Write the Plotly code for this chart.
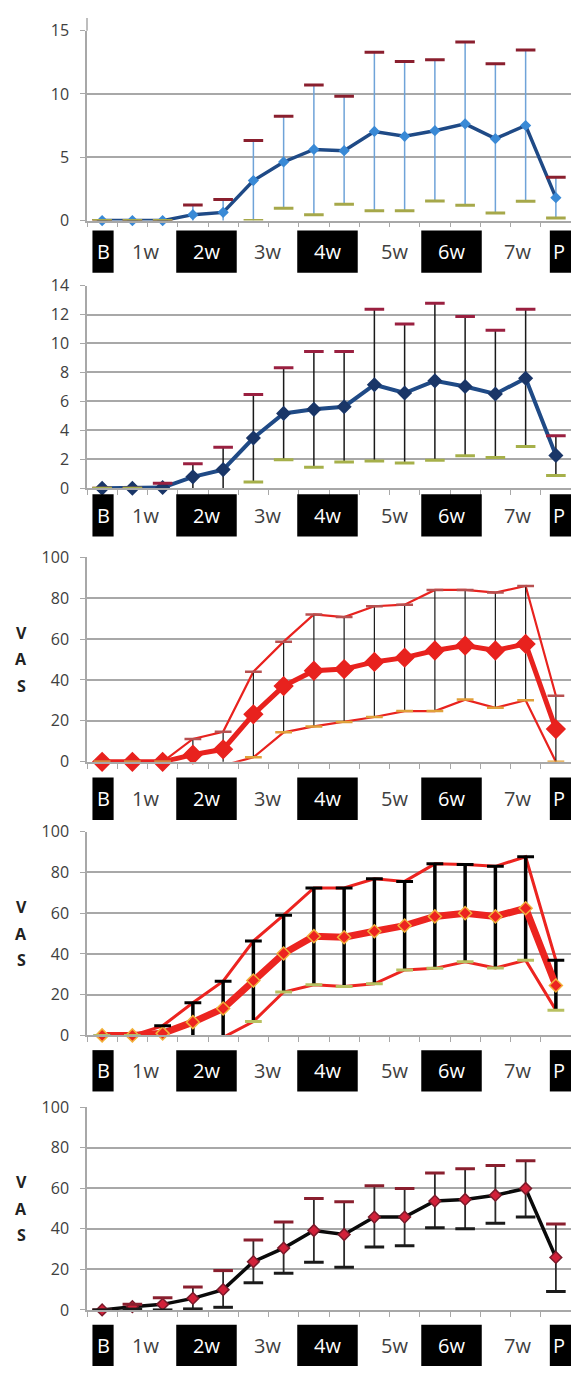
import plotly.graph_objects as go

W, H = 571, 1378

# ---------------- data ----------------
x_idx = list(range(16))  # 16 time points: B, 1w(2), 2w(2), 3w(2), 4w(2), 5w(2), 6w(2), 7w(2), P

group_labels = ["B", "1w", "2w", "3w", "4w", "5w", "6w", "7w", "P"]
group_boxed = [True, False, True, False, True, False, True, False, True]

p1_mean = [0, 0, 0, 0.47, 0.65, 3.16, 4.63, 5.62, 5.52, 7.04, 6.66, 7.10, 7.64, 6.47, 7.51, 1.81]
p1_upper = [0, 0, 0, 1.24, 1.66, 6.32, 8.24, 10.7, 9.82, 13.3, 12.56, 12.7, 14.1, 12.38, 13.47, 3.42]
p1_lower = [0, 0, 0, -0.3, -0.4, 0, 0.98, 0.47, 1.3, 0.78, 0.78, 1.55, 1.22, 0.6, 1.53, 0.2]

p2_mean = [0, 0, 0.05, 0.79, 1.29, 3.47, 5.17, 5.45, 5.63, 7.15, 6.58, 7.42, 7.03, 6.51, 7.6, 2.27]
p2_upper = [0, 0, 0.34, 1.7, 2.84, 6.47, 8.33, 9.44, 9.44, 12.37, 11.35, 12.78, 11.87, 10.91, 12.37, 3.63]
p2_lower = [0, 0, -0.2, -0.1, -0.3, 0.43, 1.97, 1.45, 1.82, 1.88, 1.75, 1.93, 2.25, 2.13, 2.88, 0.88]

p3_mean = [0, 0, 0, 3.5, 6.1, 23.2, 37.0, 44.5, 45.3, 48.8, 50.9, 54.4, 56.8, 54.4, 57.6, 16.0]
p3_upper = [0, 0, 0, 11.2, 14.7, 44.0, 58.7, 72.0, 70.7, 76.0, 76.8, 84.0, 84.0, 82.7, 85.9, 32.3]
p3_lower = [0, 0, 0, -4.0, -1.8, 2.2, 14.4, 17.3, 19.5, 21.9, 24.8, 24.8, 30.4, 26.4, 30.1, 0]

p4_mean = [0, 0, 1.0, 6.5, 13.2, 26.9, 40.2, 48.7, 48.2, 51.1, 53.9, 58.4, 60.0, 58.4, 62.4, 24.5]
p4_upper = [0, 0, 4.7, 16.0, 26.6, 46.3, 59.0, 72.4, 72.4, 76.9, 75.6, 84.2, 83.9, 83.0, 87.7, 36.9]
p4_lower = [0, 0, -1.5, -4.0, -1.0, 6.8, 21.3, 24.8, 24.0, 25.3, 32.1, 32.9, 36.1, 33.1, 36.9, 12.4]

p5_mean = [0, 1.6, 2.75, 5.7, 10.0, 23.8, 30.5, 39.2, 37.2, 45.8, 45.8, 53.7, 54.5, 56.6, 59.9, 25.9]
p5_upper = [0, 2.8, 6.0, 11.3, 19.4, 34.5, 43.4, 55.0, 53.4, 61.2, 59.9, 67.5, 69.6, 71.2, 73.6, 42.4]
p5_lower = [0, 0.4, 0, 0.5, 1.3, 13.4, 18.1, 23.5, 21.0, 31.1, 31.6, 40.5, 40.1, 42.7, 45.9, 9.1]

# ---------------- layout / styles ----------------
# label positions (in category units) for the label row
label_center = [0.03, 1.43, 3.45, 5.46, 7.45, 9.66, 11.55, 13.72, 15.1]
box_x0 = [-0.32, None, 2.45, None, 6.45, None, 10.55, None, 14.8]
box_x1 = [0.38, None, 4.45, None, 8.45, None, 12.55, None, 15.5]

panels = [
    dict(mean=p1_mean, up=p1_upper, lo=p1_lower, ymax=15, dtick=5, top=20, bottom=213, box=(223, 266),
         line_color="#1f4a86", line_w=3.5, mk_color="#3a8ad6", mk_line="#3a8ad6", mk_size=7,
         err_color="#6fa3d8", err_w=1.5, cap_up="#8a1f2e", cap_lo="#a6a84a", cap_size=14, cap_w=3,
         bounds=False, vas=False),
    dict(mean=p2_mean, up=p2_upper, lo=p2_lower, ymax=14, dtick=2, top=279, bottom=485, box=(491, 534),
         line_color="#1f4a86", line_w=4, mk_color="#1a3668", mk_line="#1a3668", mk_size=10,
         err_color="#1a1a1a", err_w=1.5, cap_up="#9a2040", cap_lo="#a6b04a", cap_size=14, cap_w=3,
         bounds=False, vas=False),
    dict(mean=p3_mean, up=p3_upper, lo=p3_lower, ymax=100, dtick=20, top=555, bottom=763, box=(779, 822),
         line_color="#e8221e", line_w=5, mk_color="#e8221e", mk_line="#e8221e", mk_size=14,
         err_color="#1a1a1a", err_w=1.2, cap_up="#b85050", cap_lo="#e0a03a", cap_size=12, cap_w=2.5,
         bounds=True, bound_w=2.2, vas=True),
    dict(mean=p4_mean, up=p4_upper, lo=p4_lower, ymax=100, dtick=20, top=834, bottom=1041, box=(1056, 1098),
         line_color="#ec2420", line_w=7, mk_color="#ec2420", mk_line="#f2b13a", mk_size=10,
         err_color="#000000", err_w=3.5, cap_up="#000000", cap_lo="#b8c060", cap_size=12, cap_w=3,
         bounds=True, bound_w=3, vas=True),
    dict(mean=p5_mean, up=p5_upper, lo=p5_lower, ymax=100, dtick=20, top=1114, bottom=1320, box=(1335, 1377),
         line_color="#0a0a0a", line_w=3.5, mk_color="#d2213a", mk_line="#7a1a2a", mk_size=9,
         err_color="#2a2a2a", err_w=1.8, cap_up="#8a1f2e", cap_lo="#1a1a1a", cap_size=14, cap_w=3,
         bounds=False, vas=True),
]

GRID = "#a8a8a8"
TXT = "#404040"
FONT = "Open Sans"

fig = go.Figure()
shapes = []
annotations = []
layout = {}

for i, p in enumerate(panels):
    n = i + 1
    xa = "x" if n == 1 else f"x{n}"
    ya = "y" if n == 1 else f"y{n}"
    mean, up, lo = p["mean"], p["up"], p["lo"]

    if p["bounds"]:
        for arr in (up, lo):
            fig.add_trace(go.Scatter(x=x_idx, y=arr, mode="lines", xaxis=xa, yaxis=ya,
                                     line=dict(color=p["line_color"], width=p["bound_w"]),
                                     hoverinfo="skip"))

    # error bars (clipped to the plot area)
    fig.add_trace(go.Scatter(
        x=x_idx, y=mean, mode="markers", xaxis=xa, yaxis=ya,
        marker=dict(size=1, opacity=0),
        error_y=dict(type="data", symmetric=False,
                     array=[u - m for u, m in zip(up, mean)],
                     arrayminus=[m - l for m, l in zip(mean, lo)],
                     color=p["err_color"], thickness=p["err_w"], width=0),
        hoverinfo="skip"))

    # mean line
    fig.add_trace(go.Scatter(
        x=x_idx, y=mean, mode="lines+markers", xaxis=xa, yaxis=ya, cliponaxis=False,
        line=dict(color=p["line_color"], width=p["line_w"]),
        marker=dict(symbol="diamond", size=p["mk_size"], color=p["mk_color"],
                    line=dict(color=p["mk_line"], width=1.5))))

    # caps
    fig.add_trace(go.Scatter(
        x=x_idx, y=up, mode="markers", xaxis=xa, yaxis=ya,
        marker=dict(symbol="line-ew", size=p["cap_size"],
                    line=dict(color=p["cap_up"], width=p["cap_w"])), hoverinfo="skip"))
    fig.add_trace(go.Scatter(
        x=x_idx, y=lo, mode="markers", xaxis=xa, yaxis=ya,
        marker=dict(symbol="line-ew", size=p["cap_size"],
                    line=dict(color=p["cap_lo"], width=p["cap_w"])), hoverinfo="skip"))

    xkey = "xaxis" if n == 1 else f"xaxis{n}"
    ykey = "yaxis" if n == 1 else f"yaxis{n}"
    layout[xkey] = dict(
        domain=[87 / W, 1.0], range=[-0.5, 15.5], anchor=ya,
        tickmode="array", tickvals=[k - 0.5 for k in range(17)], showticklabels=False,
        ticks="outside", ticklen=5, tickwidth=1.2, tickcolor=GRID,
        showline=True, linecolor=GRID, linewidth=1.5, showgrid=False, zeroline=False,
        fixedrange=True)
    layout[ykey] = dict(
        domain=[1 - p["bottom"] / H, 1 - p["top"] / H], range=[0, p["ymax"]], anchor=xa,
        dtick=p["dtick"], tick0=0, ticks="outside", ticklen=5, tickwidth=1.2, tickcolor=GRID,
        showline=True, linecolor=GRID, linewidth=1.5, showgrid=True, gridcolor=GRID,
        gridwidth=1.5, zeroline=False, ticklabelstandoff=8,
        tickfont=dict(family=FONT, size=16, color=TXT), fixedrange=True)

    # label row
    by0, by1 = p["box"]
    for lab, boxed, cx, bx0, bx1 in zip(group_labels, group_boxed, label_center, box_x0, box_x1):
        if boxed:
            shapes.append(dict(type="rect", xref=xa, yref="paper", x0=bx0, x1=bx1,
                               y0=1 - by1 / H, y1=1 - by0 / H, fillcolor="black",
                               line=dict(width=0), layer="above"))
        annotations.append(dict(text=lab, xref=xa, yref="paper", x=cx, y=1 - (by0 + by1) / 2 / H,
                                showarrow=False, xanchor="center", yanchor="middle",
                                font=dict(family=FONT, size=20, color="white" if boxed else TXT)))

    if p["vas"]:
        mid = (p["top"] + p["bottom"]) / 2
        for k, ch in enumerate(["V", "A", "S"]):
            annotations.append(dict(text=f"<b>{ch}</b>", xref="paper", yref="paper",
                                    x=21 / W, y=1 - (mid - 27 + 27 * k) / H, showarrow=False,
                                    xanchor="center", yanchor="middle",
                                    font=dict(family=FONT, size=16, color="#222222")))

# top extension of the first panel's vertical axis line
shapes.append(dict(type="line", xref="paper", yref="paper", x0=87 / W, x1=87 / W,
                   y0=1 - 20 / H, y1=1 - 7 / H, line=dict(color=GRID, width=1.5)))

fig.update_layout(
    width=W, height=H, margin=dict(l=0, r=0, t=0, b=0),
    paper_bgcolor="white", plot_bgcolor="white", showlegend=False,
    shapes=shapes, annotations=annotations, **layout)

fig.write_html(
    "out.html",
    config={"displayModeBar": False},
    post_script="document.body.style.margin='0';document.body.style.padding='0';"
                "document.documentElement.style.overflow='hidden';")
